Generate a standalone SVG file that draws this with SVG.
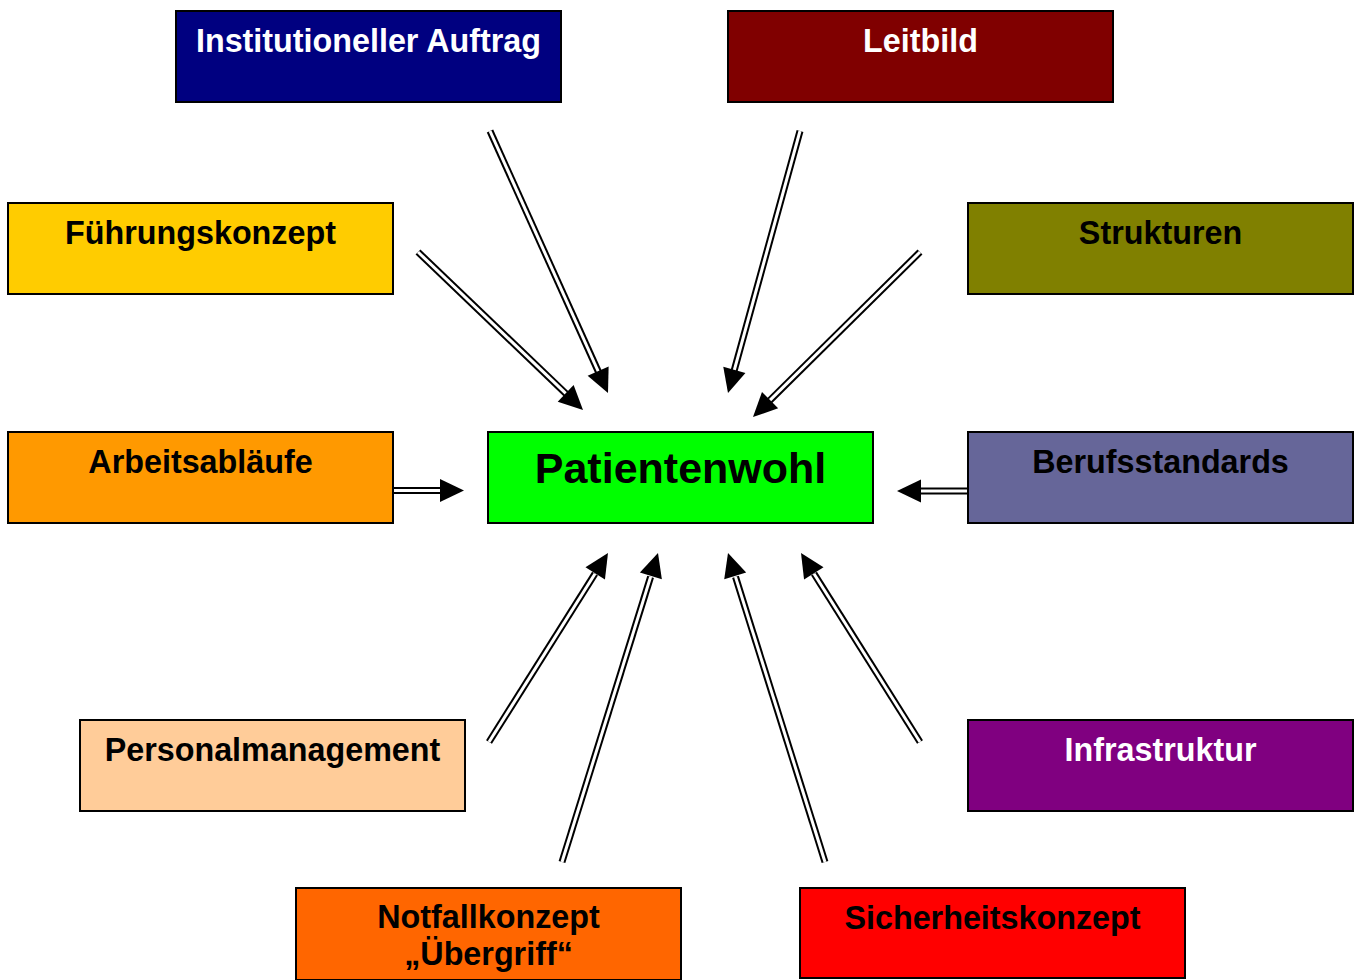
<svg xmlns="http://www.w3.org/2000/svg" width="1361" height="980" viewBox="0 0 1361 980">
<style>
.box{stroke:#000;stroke-width:2}
.t{font-family:"Liberation Sans",Arial,sans-serif;font-weight:bold;font-size:32.3px;text-anchor:middle}
.w{fill:#fff}
.k{fill:#000}
.o{stroke:#000;stroke-width:7;fill:none}
.i{stroke:#fff;stroke-width:3;fill:none}
.h{fill:#000}
</style>
<rect width="1361" height="980" fill="#fff"/>
<g id="connectors">
<g class="o">
<line x1="490" y1="131" x2="598.5" y2="372"/>
<line x1="418" y1="252" x2="566" y2="393.7"/>
<line x1="800" y1="131" x2="734.1" y2="370.8"/>
<line x1="920" y1="252" x2="769.8" y2="400.4"/>
<line x1="489" y1="742" x2="595" y2="573.7"/>
<line x1="562" y1="862" x2="650.6" y2="576.9"/>
<line x1="825" y1="862" x2="735.5" y2="576.9"/>
<line x1="920" y1="742" x2="814" y2="573.7"/>
<line x1="393" y1="490.5" x2="441" y2="490.5"/>
<line x1="968" y1="491" x2="920" y2="491"/>
</g>
<g class="i">
<line x1="490" y1="131" x2="598.5" y2="372"/>
<line x1="418" y1="252" x2="566" y2="393.7"/>
<line x1="800" y1="131" x2="734.1" y2="370.8"/>
<line x1="920" y1="252" x2="769.8" y2="400.4"/>
<line x1="489" y1="742" x2="595" y2="573.7"/>
<line x1="562" y1="862" x2="650.6" y2="576.9"/>
<line x1="825" y1="862" x2="735.5" y2="576.9"/>
<line x1="920" y1="742" x2="814" y2="573.7"/>
<line x1="394" y1="490.5" x2="441" y2="490.5"/>
<line x1="967" y1="491" x2="920" y2="491"/>
</g>
<g class="h">
<polygon points="608,393 587.65,375.84 608.63,366.40"/>
<polygon points="583,410 557.72,401.71 573.62,385.09"/>
<polygon points="728,393 723.27,366.81 745.45,372.91"/>
<polygon points="753,417 761.99,391.95 778.15,408.31"/>
<polygon points="608,553 604.94,579.44 585.48,567.18"/>
<polygon points="658,553 661.86,579.33 639.90,572.51"/>
<polygon points="728,553 746.16,572.46 724.22,579.34"/>
<polygon points="801,553 823.52,567.18 804.06,579.44"/>
<polygon points="464,490.5 440,479 440,502"/>
<polygon points="897,491 921,479.5 921,502.5"/>
</g>
</g>
<g id="institutioneller-auftrag">
<rect class="box" x="176" y="11" width="385" height="91" fill="#000080"/>
<text class="t w" x="368.5" y="52">Institutioneller Auftrag</text>
</g>
<g id="leitbild">
<rect class="box" x="728" y="11" width="385" height="91" fill="#800000"/>
<text class="t w" x="920.5" y="51.5">Leitbild</text>
</g>
<g id="fuehrungskonzept">
<rect class="box" x="8" y="203" width="385" height="91" fill="#FFCC00"/>
<text class="t k" x="200.5" y="244">Führungskonzept</text>
</g>
<g id="strukturen">
<rect class="box" x="968" y="203" width="385" height="91" fill="#808000"/>
<text class="t k" x="1160.5" y="244">Strukturen</text>
</g>
<g id="arbeitsablaeufe">
<rect class="box" x="8" y="432" width="385" height="91" fill="#FF9900"/>
<text class="t k" x="200.5" y="473">Arbeitsabläufe</text>
</g>
<g id="patientenwohl">
<rect class="box" x="488" y="432" width="385" height="91" fill="#00FF00"/>
<text class="t k" x="680.5" y="483" style="font-size:43px">Patientenwohl</text>
</g>
<g id="berufsstandards">
<rect class="box" x="968" y="432" width="385" height="91" fill="#666699"/>
<text class="t k" x="1160.5" y="473">Berufsstandards</text>
</g>
<g id="personalmanagement">
<rect class="box" x="80" y="720" width="385" height="91" fill="#FFCC99"/>
<text class="t k" x="272.5" y="761">Personalmanagement</text>
</g>
<g id="infrastruktur">
<rect class="box" x="968" y="720" width="385" height="91" fill="#800080"/>
<text class="t w" x="1160.5" y="761">Infrastruktur</text>
</g>
<g id="notfallkonzept">
<rect class="box" x="296" y="888" width="385" height="92" fill="#FF6600"/>
<text class="t k" x="488.5" y="928">Notfallkonzept</text>
<text class="t k" x="488.5" y="965">„Übergriff“</text>
</g>
<g id="sicherheitskonzept">
<rect class="box" x="800" y="888" width="385" height="90" fill="#FF0000"/>
<text class="t k" x="992.5" y="929">Sicherheitskonzept</text>
</g>
</svg>
